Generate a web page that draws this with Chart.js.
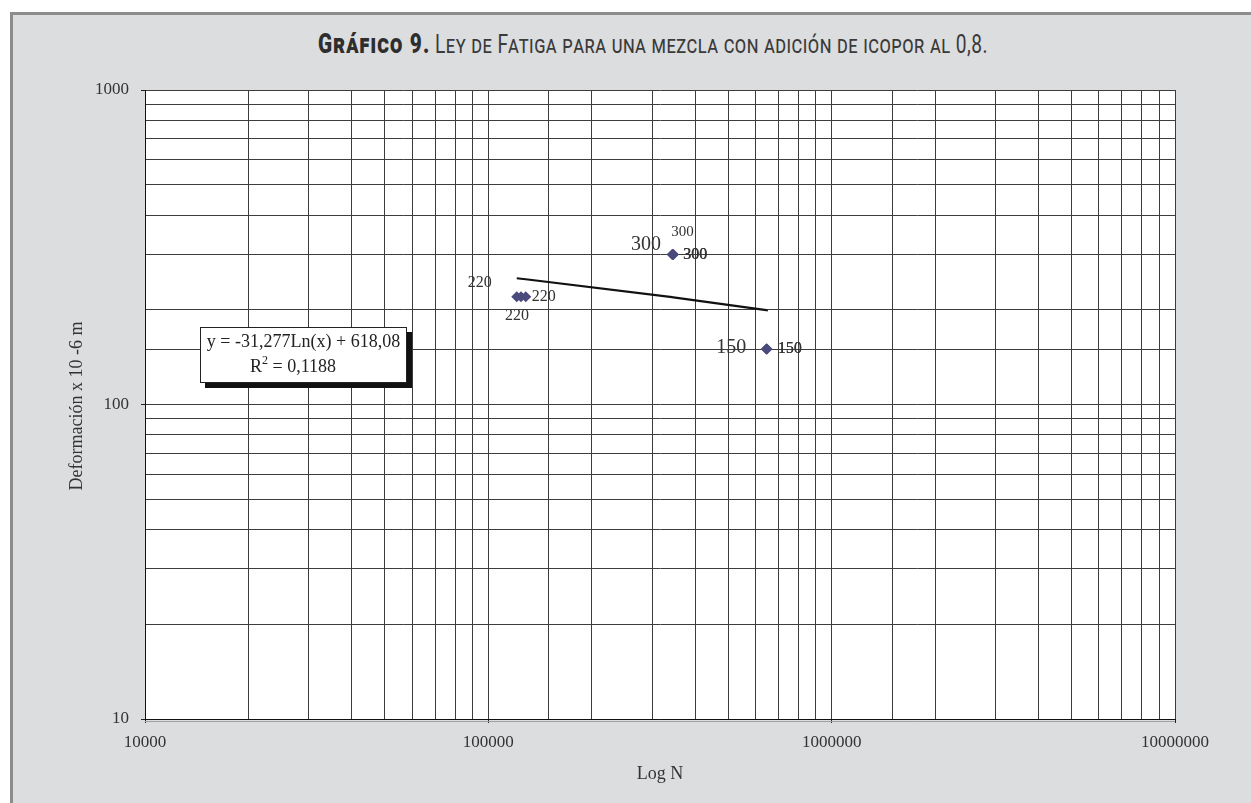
<!DOCTYPE html>
<html>
<head>
<meta charset="utf-8">
<script src="https://cdn.jsdelivr.net/npm/chart.js@4/dist/chart.umd.min.js"></script>
<style>
  html, body { margin: 0; padding: 0; background: #fff; width: 1251px; height: 803px; overflow: hidden; }
  #frame { position: absolute; left: 10px; top: 12px; width: 1241px; height: 791px; background: #dcdddf;
           border-top: 3px solid #8c8c8c; border-left: 3px solid #8c8c8c; box-sizing: border-box; }
  #title { position: absolute; top: 29px; left: 653px; white-space: nowrap; font-family: Roboto, 'DejaVu Sans', sans-serif;
           font-size: 25px; line-height: 30px; font-variant: small-caps; color: #3a3a3a; transform-origin: 0 0; }
  #title b { font-weight: 900; color: #2e2e2e; font-size: 27px; letter-spacing: 1.5px; }
  #title span { font-weight: 400; letter-spacing: 0.6px; }
  canvas { position: absolute; left: 0; top: 0; }
</style>
</head>
<body>
<div id="frame"></div>
<div id="title"><b>Gráfico 9.</b> <span>Ley de Fatiga para una mezcla con adición de icopor al 0,8.</span></div>
<canvas id="c" width="1251" height="803"></canvas>
<script>
// Fatigue test results: number of cycles N and strain (x 10^-6 m)
const cyclesN = [121000, 124500, 128500, 343000, 344000, 345000, 346000, 645000, 646500, 648000];
const strain  = [220, 220, 220, 300, 300, 300, 300, 150, 150, 150];

// Logarithmic trend line y = a·Ln(x) + b
const trendSlope = -31.277;
const trendIntercept = 618.08;
const rSquared = 0.1188;

// Labelled decades on each axis
const xTickLabels = [10000, 100000, 1000000, 10000000];
const yTickLabels = [10, 100, 1000];

// Placement of each point's value label relative to its marker
const labelPlacement = [
  { dx: -37, dy: -14, size: 16, align: 'center' },
  { dx: -4,  dy: 19,  size: 16, align: 'center' },
  { dx: 6,   dy: 0,   size: 16, align: 'left' },
  { dx: -26, dy: -10, size: 20, align: 'center' },
  { dx: 10,  dy: -22, size: 15, align: 'center' },
  { dx: 10,  dy: 0,   size: 16, align: 'left' },
  { dx: 10,  dy: 0,   size: 16, align: 'left' },
  { dx: -35, dy: -1,  size: 20, align: 'center' },
  { dx: 11,  dy: 0,   size: 16, align: 'left' },
  { dx: 11,  dy: 0,   size: 16, align: 'left' }
];

const SERIF = "'Liberation Serif', 'Times New Roman', serif";
const TEXT = '#333';

const points = cyclesN.map((x, i) => ({ x: x, y: strain[i] }));
const trendX = Array.from(new Set(cyclesN)).sort((a, b) => a - b);
const trendPts = trendX.map(x => ({ x: x, y: trendSlope * Math.log(x) + trendIntercept }));

const isDecade = v => Math.abs(Math.log10(v) - Math.round(Math.log10(v))) < 1e-9;
const fmt = (v, d) => v.toFixed(d).replace('.', ',');
const decadeLabel = list => v => {
  const t = list.find(t => Math.abs(t - v) < 1e-6 * t);
  return t ? String(t) : '';
};

// fit the heading to its width
(function () {
  const t = document.getElementById('title');
  const w = t.getBoundingClientRect().width;
  const s = 670 / w;
  t.style.transform = 'scaleX(' + s + ') translateX(-50%)';
})();

const plotBackground = {
  id: 'plotBackground',
  beforeDraw(chart) {
    const { ctx, chartArea: a } = chart;
    ctx.save();
    ctx.fillStyle = '#ffffff';
    ctx.fillRect(a.left, a.top, a.right - a.left, a.bottom - a.top);
    ctx.restore();
  },
  afterDraw(chart) {
    // light rule under the category axis
    const { ctx, chartArea: a } = chart;
    ctx.save();
    ctx.strokeStyle = '#a0a0a0';
    ctx.lineWidth = 1;
    ctx.beginPath();
    ctx.moveTo(a.left, a.bottom + 2.5);
    ctx.lineTo(a.right, a.bottom + 2.5);
    ctx.stroke();
    ctx.restore();
  }
};

const annotations = {
  id: 'annotations',
  afterDatasetsDraw(chart) {
    const ctx = chart.ctx;
    const meta = chart.getDatasetMeta(0);
    ctx.save();
    ctx.fillStyle = TEXT;
    ctx.textBaseline = 'middle';
    meta.data.forEach((el, i) => {
      const p = labelPlacement[i];
      ctx.font = p.size + 'px ' + SERIF;
      ctx.textAlign = p.align;
      ctx.fillText(String(strain[i]), el.x + p.dx, el.y + p.dy);
    });

    // trend equation box
    const bx = 200, by = 327, bw = 207, bh = 56;
    ctx.fillStyle = '#111';
    ctx.fillRect(bx + 5, by + 5, bw, bh);
    ctx.fillStyle = '#fff';
    ctx.fillRect(bx, by, bw, bh);
    ctx.strokeStyle = '#222';
    ctx.lineWidth = 1;
    ctx.strokeRect(bx + 0.5, by + 0.5, bw - 1, bh - 1);

    ctx.fillStyle = '#222';
    ctx.font = '18px ' + SERIF;
    ctx.textAlign = 'center';
    const eq = 'y = ' + fmt(trendSlope, 3) + 'Ln(x) + ' + fmt(trendIntercept, 2);
    ctx.fillText(eq, bx + bw / 2, by + 15);

    const r1 = 'R', r2 = '2', r3 = ' = ' + fmt(rSquared, 4);
    ctx.font = '18px ' + SERIF;
    const w1 = ctx.measureText(r1).width, w3 = ctx.measureText(r3).width;
    ctx.font = '12px ' + SERIF;
    const w2 = ctx.measureText(r2).width;
    const x0 = 293 - (w1 + w2 + w3) / 2;
    const ly = by + 40;
    ctx.textAlign = 'left';
    ctx.font = '18px ' + SERIF;
    ctx.fillText(r1, x0, ly);
    ctx.font = '12px ' + SERIF;
    ctx.fillText(r2, x0 + w1, ly - 6);
    ctx.font = '18px ' + SERIF;
    ctx.fillText(r3, x0 + w1 + w2, ly);

    // axis titles
    ctx.fillStyle = TEXT;
    ctx.font = '18px ' + SERIF;
    ctx.textAlign = 'center';
    ctx.fillText('Log N', 660, 774);
    ctx.translate(77, 406);
    ctx.rotate(-Math.PI / 2);
    ctx.fillText('Deformación x 10 -6 m', 0, 0);
    ctx.restore();
  }
};

new Chart(document.getElementById('c'), {
  type: 'scatter',
  data: {
    datasets: [
      {
        data: points,
        pointStyle: 'rectRot',
        pointRadius: 5.5,
        backgroundColor: '#4b4a7c',
        borderColor: '#4b4a7c',
        borderWidth: 0
      },
      {
        data: trendPts,
        showLine: true,
        pointRadius: 0,
        borderColor: '#111',
        borderWidth: 2.2,
        fill: false
      }
    ]
  },
  options: {
    responsive: false,
    animation: false,
    events: [],
    layout: { padding: { top: 90, right: 76, left: 0, bottom: 0 } },
    plugins: { legend: { display: false }, title: { display: false }, tooltip: { enabled: false } },
    scales: {
      x: {
        type: 'logarithmic',
        position: 'bottom',
        min: 10000,
        max: 10000000,
        afterFit: s => { s.height = 84; },
        border: { display: true, color: '#111', width: 1 },
        grid: {
          color: '#3c3c3c',
          lineWidth: 1,
          tickLength: 4,
          tickColor: c => (c.tick && isDecade(c.tick.value)) ? '#222' : 'rgba(0,0,0,0)'
        },
        ticks: {
          autoSkip: false,
          maxRotation: 0,
          padding: 9,
          color: TEXT,
          font: { family: SERIF, size: 17 },
          callback: decadeLabel(xTickLabels)
        }
      },
      y: {
        type: 'logarithmic',
        position: 'left',
        min: 10,
        max: 1000,
        afterFit: s => { s.width = 145; },
        border: { display: true, color: '#111', width: 1 },
        grid: {
          color: '#3c3c3c',
          lineWidth: 1,
          tickLength: 4,
          tickColor: c => (c.tick && isDecade(c.tick.value)) ? '#222' : 'rgba(0,0,0,0)'
        },
        ticks: {
          autoSkip: false,
          padding: 12,
          color: TEXT,
          font: { family: SERIF, size: 17 },
          callback: decadeLabel(yTickLabels)
        }
      }
    }
  },
  plugins: [plotBackground, annotations]
});
</script>
</body>
</html>
